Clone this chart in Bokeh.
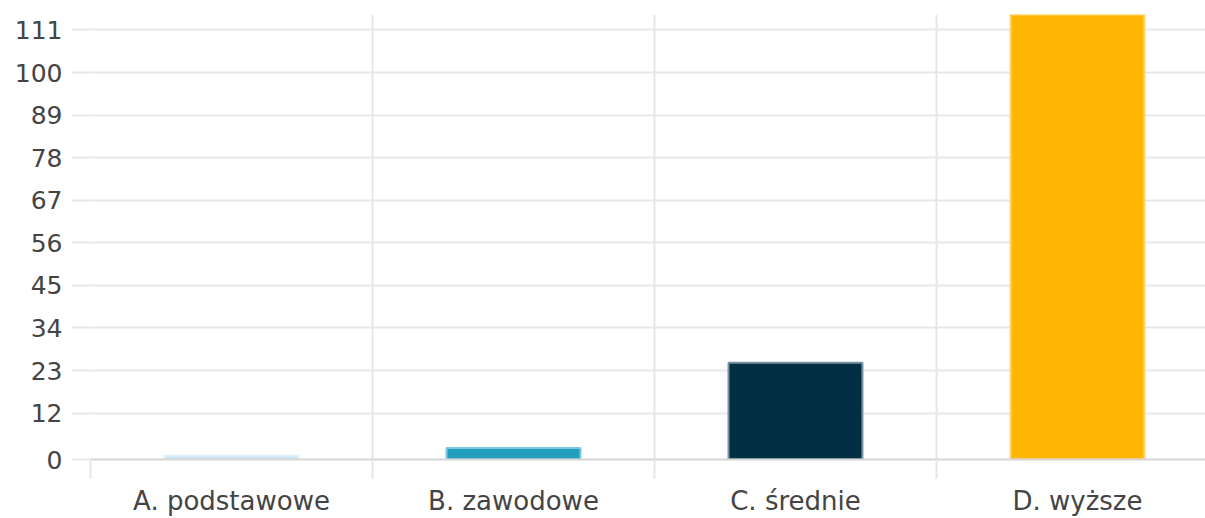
from bokeh.plotting import figure
from bokeh.models import FixedTicker, ColumnDataSource, Range1d
from bokeh.embed import file_html
from bokeh.resources import INLINE

categories = ["A. podstawowe", "B. zawodowe", "C. średnie", "D. wyższe"]
values = [1, 3, 25, 115]
fill_colors = ["#c8e5f2", "#229fbf", "#032f45", "#ffb703"]
edge_colors = ["#dff0f8", "#7cc8dc", "#7893a2", "#ffd56e"]
y_ticks = [0, 12, 23, 34, 45, 56, 67, 78, 89, 100, 111]

positions = [i + 0.5 for i in range(len(categories))]
source = ColumnDataSource(dict(x=positions, top=values, fill=fill_colors, edge=edge_colors))

p = figure(width=1205, height=518, output_backend="svg", toolbar_location=None,
           x_range=Range1d(0, 3.954), y_range=Range1d(0, 115),
           min_border_left=90, min_border_right=0, min_border_top=14, min_border_bottom=0)
p.outline_line_color = None
p.background_fill_color = "white"

p.vbar(x="x", top="top", width=0.475, source=source, fill_color="fill",
       line_color="edge", line_width=2)

font = "DejaVu Sans"
label_color = "#444444"

# x axis
p.xaxis.ticker = FixedTicker(ticks=positions, minor_ticks=list(range(len(categories))))
p.xaxis.major_label_overrides = {pos: c for pos, c in zip(positions, categories)}
p.xaxis.major_tick_line_color = None
p.xaxis.major_tick_out = 19
p.xaxis.major_tick_in = 0
p.xaxis.minor_tick_out = 19
p.xaxis.minor_tick_in = 0
p.xaxis.minor_tick_line_color = "#e6e6e6"
p.xaxis.minor_tick_line_width = 2
p.xaxis.axis_line_color = "#d6d6d6"
p.xaxis.axis_line_width = 2
p.xaxis.major_label_text_font = font
p.xaxis.major_label_text_font_size = "26px"
p.xaxis.major_label_text_color = label_color
p.xaxis.major_label_standoff = 7

# y axis
p.yaxis.ticker = FixedTicker(ticks=y_ticks)
p.yaxis.axis_line_color = None
p.yaxis.major_tick_out = 19
p.yaxis.major_tick_in = 0
p.yaxis.major_tick_line_color = "#e8e8e8"
p.yaxis.major_tick_line_width = 2
p.yaxis.minor_tick_line_color = None
p.yaxis.major_label_text_font = font
p.yaxis.major_label_text_font_size = "25px"
p.yaxis.major_label_text_color = label_color
p.yaxis.major_label_standoff = 9

# grids
p.xgrid.ticker = FixedTicker(ticks=list(range(len(categories))))
p.xgrid.grid_line_color = "#e6e6e6"
p.xgrid.grid_line_width = 2
p.ygrid.grid_line_color = "#e8e8e8"
p.ygrid.grid_line_width = 2

open("out.html", "w").write(file_html(p, INLINE))
